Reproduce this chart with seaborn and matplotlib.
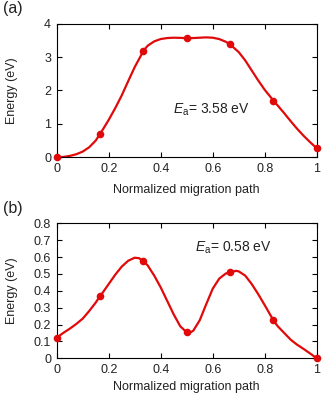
import numpy as np
import pandas as pd
import matplotlib
matplotlib.use("Agg")
import matplotlib.pyplot as plt
import seaborn as sns

# Image positions along the normalized migration path
image_x = [0, 1/6, 1/3, 1/2, 2/3, 5/6, 1]

# (a) high-barrier pathway: image energies (eV) and the fitted energy profile
energy_a = [0.0, 0.70, 3.19, 3.56, 3.38, 1.69, 0.27]
profile_x_a = [0, 0.025, 0.05, 0.075, 0.10, 0.125, 0.15, 1/6, 0.175, 0.20,
               0.225, 0.25, 0.275, 0.30, 0.325, 1/3, 0.35, 0.375, 0.40, 0.425,
               0.45, 0.475, 0.50, 0.525, 0.55, 0.575, 0.60, 0.625, 0.65, 2/3,
               0.70, 0.725, 0.75, 0.775, 0.80, 0.825, 5/6, 0.85, 0.875, 0.90,
               0.925, 0.95, 0.975, 1.0]
profile_e_a = [0.0, 0.01, 0.04, 0.09, 0.17, 0.30, 0.50, 0.70, 0.80, 1.12,
               1.47, 1.85, 2.28, 2.70, 3.06, 3.19, 3.34, 3.47, 3.54, 3.57,
               3.58, 3.575, 3.565, 3.57, 3.58, 3.59, 3.58, 3.54, 3.46, 3.38,
               3.15, 2.90, 2.60, 2.30, 2.02, 1.78, 1.69, 1.55, 1.32, 1.08,
               0.85, 0.64, 0.45, 0.27]
barrier_a = 3.58

# (b) low-barrier pathway
energy_b = [0.122, 0.369, 0.577, 0.154, 0.510, 0.225, 0.0]
profile_x_b = [0, 0.025, 0.05, 0.075, 0.10, 0.125, 0.15, 1/6, 0.175, 0.20,
               0.225, 0.25, 0.275, 0.30, 0.3167, 1/3, 0.35, 0.375, 0.40, 0.425,
               0.45, 0.475, 0.50, 0.51, 0.525, 0.55, 0.575, 0.60, 0.625, 0.65,
               2/3, 0.69, 0.70, 0.725, 0.75, 0.775, 0.80, 5/6, 0.85, 0.875,
               0.90, 0.925, 0.95, 0.975, 1.0]
profile_e_b = [0.122, 0.150, 0.175, 0.203, 0.235, 0.280, 0.330, 0.369, 0.385, 0.440,
               0.495, 0.543, 0.578, 0.596, 0.593, 0.577, 0.550, 0.490, 0.420, 0.340,
               0.260, 0.190, 0.154, 0.150, 0.163, 0.225, 0.320, 0.412, 0.472, 0.502,
               0.510, 0.518, 0.515, 0.490, 0.440, 0.380, 0.315, 0.225, 0.190, 0.150,
               0.110, 0.080, 0.055, 0.028, 0.0]
barrier_b = 0.58

x_ticks = [0, 0.2, 0.4, 0.6, 0.8, 1.0]
x_tick_labels = ["0", "0.2", "0.4", "0.6", "0.8", "1"]
y_ticks_a = [0, 1, 2, 3, 4]
y_tick_labels_a = ["0", "1", "2", "3", "4"]
y_ticks_b = [0, 0.1, 0.2, 0.3, 0.4, 0.5, 0.6, 0.7, 0.8]
y_tick_labels_b = ["0", "0.1", "0.2", "0.3", "0.4", "0.5", "0.6", "0.7", "0.8"]

sns.set_style("ticks")
plt.rcParams["font.family"] = ["Liberation Sans", "DejaVu Sans"]
plt.rcParams["mathtext.fontset"] = "custom"
plt.rcParams["mathtext.rm"] = "Liberation Sans"
plt.rcParams["mathtext.it"] = "Liberation Sans:italic"
plt.rcParams["axes.linewidth"] = 0.8

RED = "#e00a0a"
TEXT = "#222222"

fig = plt.figure(figsize=(3.24, 4.0), dpi=100)
ax_a = fig.add_axes([0.175, 0.6068, 0.8025, 0.334])
ax_b = fig.add_axes([0.175, 0.1043, 0.8025, 0.3375])


def draw_panel(ax, px, pe, ix, ie, yticks, ylabels, ylim, label, barrier,
               text_xy, xlabel_y, label_y):
    prof = pd.DataFrame({"path": px, "energy": pe})
    imgs = pd.DataFrame({"path": ix, "energy": ie})
    sns.lineplot(data=prof, x="path", y="energy", ax=ax, color=RED,
                 linewidth=1.6, sort=False, clip_on=False,
                 solid_joinstyle="round", solid_capstyle="round")
    sns.scatterplot(data=imgs, x="path", y="energy", ax=ax, color=RED,
                    s=30, edgecolor=RED, linewidth=0, clip_on=False, zorder=5)
    ax.set_xlim(0, 1)
    ax.set_ylim(*ylim)
    ax.set_xticks(x_ticks)
    ax.set_xticklabels(x_tick_labels)
    ax.set_yticks(yticks)
    ax.set_yticklabels(ylabels)
    ax.tick_params(direction="in", length=3.5, width=0.8, top=True, right=True,
                   labelsize=9, colors="black", labelcolor=TEXT, pad=4)
    for s in ax.spines.values():
        s.set_visible(True)
        s.set_color("black")
    ax.set_xlabel("Normalized migration path", fontsize=9, color=TEXT)
    ax.set_ylabel("Energy (eV)", fontsize=9, color=TEXT)
    ax.yaxis.set_label_coords(-0.149, 0.5)
    ax.xaxis.set_label_coords(0.5, xlabel_y)
    ax.text(text_xy[0], text_xy[1], r"$E_\mathrm{a}$= " + f"{barrier:.2f} eV",
            fontsize=10, color=TEXT, va="center", ha="left")
    ax.text(-0.205, label_y, label, transform=ax.transAxes, fontsize=11.5,
            color=TEXT, ha="left", va="center")


draw_panel(ax_a, profile_x_a, profile_e_a, image_x, energy_a, y_ticks_a,
           y_tick_labels_a, (0, 4), "(a)", barrier_a, (0.447, 1.42), -0.20, 1.11)
draw_panel(ax_b, profile_x_b, profile_e_b, image_x, energy_b, y_ticks_b,
           y_tick_labels_b, (0, 0.8), "(b)", barrier_b, (0.532, 0.652), -0.168, 1.106)

fig.savefig("out.png", dpi=100)
